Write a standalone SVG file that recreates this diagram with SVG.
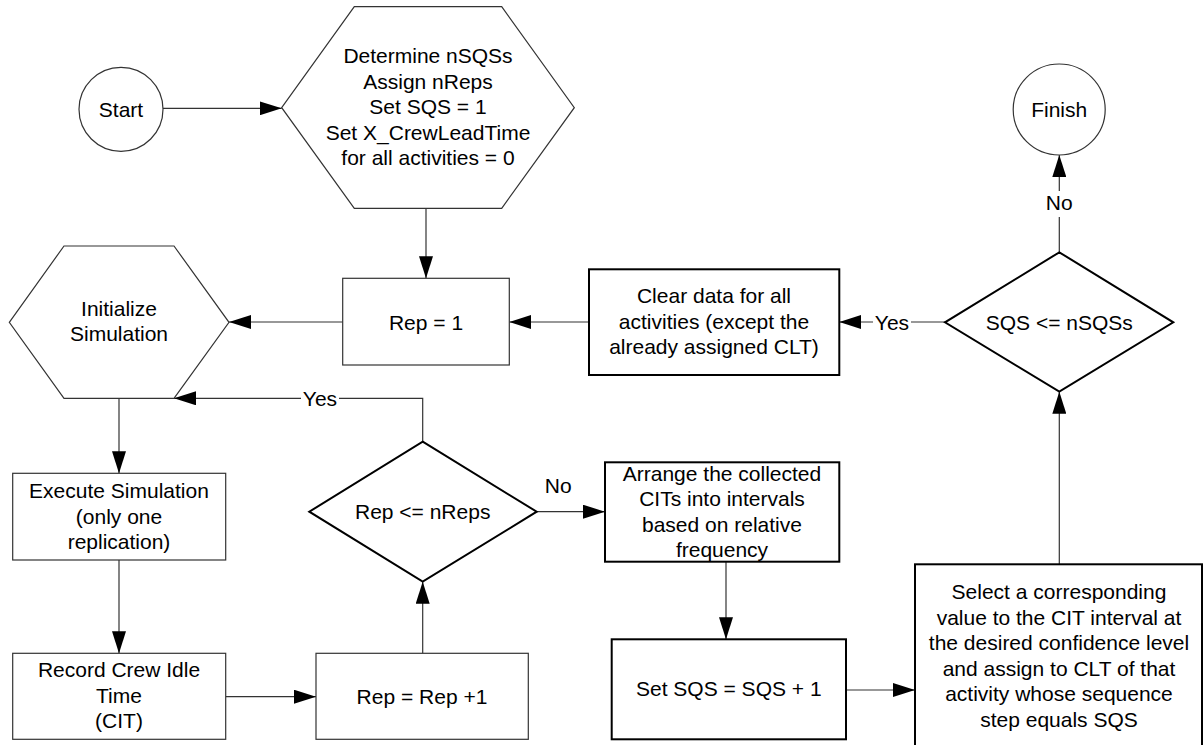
<svg xmlns="http://www.w3.org/2000/svg" width="1203" height="745" viewBox="0 0 1203 745">
<style>
.thin{fill:#fff;stroke:#333;stroke-width:1.2}
.thick{fill:#fff;stroke:#000;stroke-width:2}
text{font-family:"Liberation Sans",Arial,sans-serif;font-size:21px;fill:#000;text-anchor:middle}
.edge{fill:none;stroke:#333;stroke-width:1.2}
.lblbg{fill:#fff;stroke:none}
</style>
<defs>
<marker id="arr" markerUnits="userSpaceOnUse" markerWidth="22" markerHeight="14" refX="22" refY="7" orient="auto">
<path d="M0,0 L22,7 L0,14 z" fill="#000"/>
</marker>
</defs>
<rect width="1203" height="745" fill="#fff"/>

<g id="connectors">
<path class="edge" d="M162.7,108.3 H281.7" marker-end="url(#arr)"/>
<path class="edge" d="M426,208.3 V278.3" marker-end="url(#arr)"/>
<path class="edge" d="M342.7,322 H229" marker-end="url(#arr)"/>
<path class="edge" d="M589,322 H509.3" marker-end="url(#arr)"/>
<path class="edge" d="M945,322 H839.3" marker-end="url(#arr)"/>
<path class="edge" d="M1059.3,252.3 V155" marker-end="url(#arr)"/>
<path class="edge" d="M119,398.3 V473.3" marker-end="url(#arr)"/>
<path class="edge" d="M119,560 V653.3" marker-end="url(#arr)"/>
<path class="edge" d="M225.7,696.7 H316" marker-end="url(#arr)"/>
<path class="edge" d="M422.7,653.3 V581.7" marker-end="url(#arr)"/>
<path class="edge" d="M422.7,441.7 V398.3 H174" marker-end="url(#arr)"/>
<path class="edge" d="M536.7,511.7 H605" marker-end="url(#arr)"/>
<path class="edge" d="M726,561.7 V639.3" marker-end="url(#arr)"/>
<path class="edge" d="M846,690 H915" marker-end="url(#arr)"/>
<path class="edge" d="M1059.3,564.3 V391.7" marker-end="url(#arr)"/>
<rect class="lblbg" x="873" y="312" width="38" height="20"/>
<text x="892" y="329.5">Yes</text>
<rect class="lblbg" x="1047" y="191" width="25" height="26"/>
<text x="1059.3" y="210">No</text>
<rect class="lblbg" x="301" y="389" width="38" height="18"/>
<text x="320" y="406">Yes</text>
<text x="558.3" y="492.5">No</text>
</g>

<g id="start">
<ellipse class="thin" cx="121" cy="109.3" rx="42" ry="42"/>
<text x="121" y="116.5">Start</text>
</g>

<g id="init-params">
<polygon class="thin" points="281.7,107.7 354.3,6.7 501.7,6.7 574.3,107.7 501.7,208.3 354.3,208.3"/>
<text x="428" y="62.5">Determine nSQSs</text>
<text x="428" y="88.5">Assign nReps</text>
<text x="428" y="114">Set SQS = 1</text>
<text x="428" y="140">Set X_CrewLeadTime</text>
<text x="428" y="165">for all activities = 0</text>
</g>

<g id="rep1">
<rect class="thin" x="342.7" y="278.3" width="166.6" height="86.7"/>
<text x="426" y="329.5">Rep = 1</text>
</g>

<g id="init-sim">
<polygon class="thin" points="9.3,322.3 64,246 174,246 229,322.3 174,398.3 64,398.3"/>
<text x="119" y="316">Initialize</text>
<text x="119" y="341">Simulation</text>
</g>

<g id="clear">
<rect class="thick" x="589" y="269.3" width="250.3" height="105.7"/>
<text x="714" y="303">Clear data for all</text>
<text x="714" y="329">activities (except the</text>
<text x="714" y="354">already assigned CLT)</text>
</g>

<g id="sqs-check">
<polygon class="thick" points="1059.3,252.3 1173.3,322.3 1059.3,391.7 945,322.3"/>
<text x="1059.3" y="329.5">SQS &lt;= nSQSs</text>
</g>

<g id="finish">
<ellipse class="thin" cx="1059.2" cy="109.5" rx="46" ry="45.5"/>
<text x="1059.2" y="117">Finish</text>
</g>

<g id="execute">
<rect class="thin" x="12.7" y="473.3" width="213" height="86.7"/>
<text x="119" y="498">Execute Simulation</text>
<text x="119" y="524">(only one</text>
<text x="119" y="549">replication)</text>
</g>

<g id="record">
<rect class="thin" x="12.7" y="653.3" width="213" height="86"/>
<text x="119" y="677">Record Crew Idle</text>
<text x="119" y="702.5">Time</text>
<text x="119" y="728">(CIT)</text>
</g>

<g id="rep-inc">
<rect class="thin" x="316" y="653.3" width="212.3" height="86"/>
<text x="422" y="703.5">Rep = Rep +1</text>
</g>

<g id="rep-check">
<polygon class="thick" points="422.7,441.7 536.7,511.7 422.7,581.7 309.3,511.7"/>
<text x="422.7" y="519">Rep &lt;= nReps</text>
</g>

<g id="arrange">
<rect class="thick" x="605" y="462.3" width="234.3" height="99.4"/>
<text x="722" y="481">Arrange the collected</text>
<text x="722" y="506.3">CITs into intervals</text>
<text x="722" y="531.8">based on relative</text>
<text x="722" y="557.3">frequency</text>
</g>

<g id="set-sqs">
<rect class="thick" x="611.7" y="639.3" width="234.3" height="100"/>
<text x="728.8" y="696">Set SQS = SQS + 1</text>
</g>

<g id="select">
<rect class="thick" x="915" y="564.3" width="287" height="190"/>
<text x="1059" y="599">Select a corresponding</text>
<text x="1059" y="625">value to the CIT interval at</text>
<text x="1059" y="650">the desired confidence level</text>
<text x="1059" y="676">and assign to CLT of that</text>
<text x="1059" y="701">activity whose sequence</text>
<text x="1059" y="726.5">step equals SQS</text>
</g>
</svg>
